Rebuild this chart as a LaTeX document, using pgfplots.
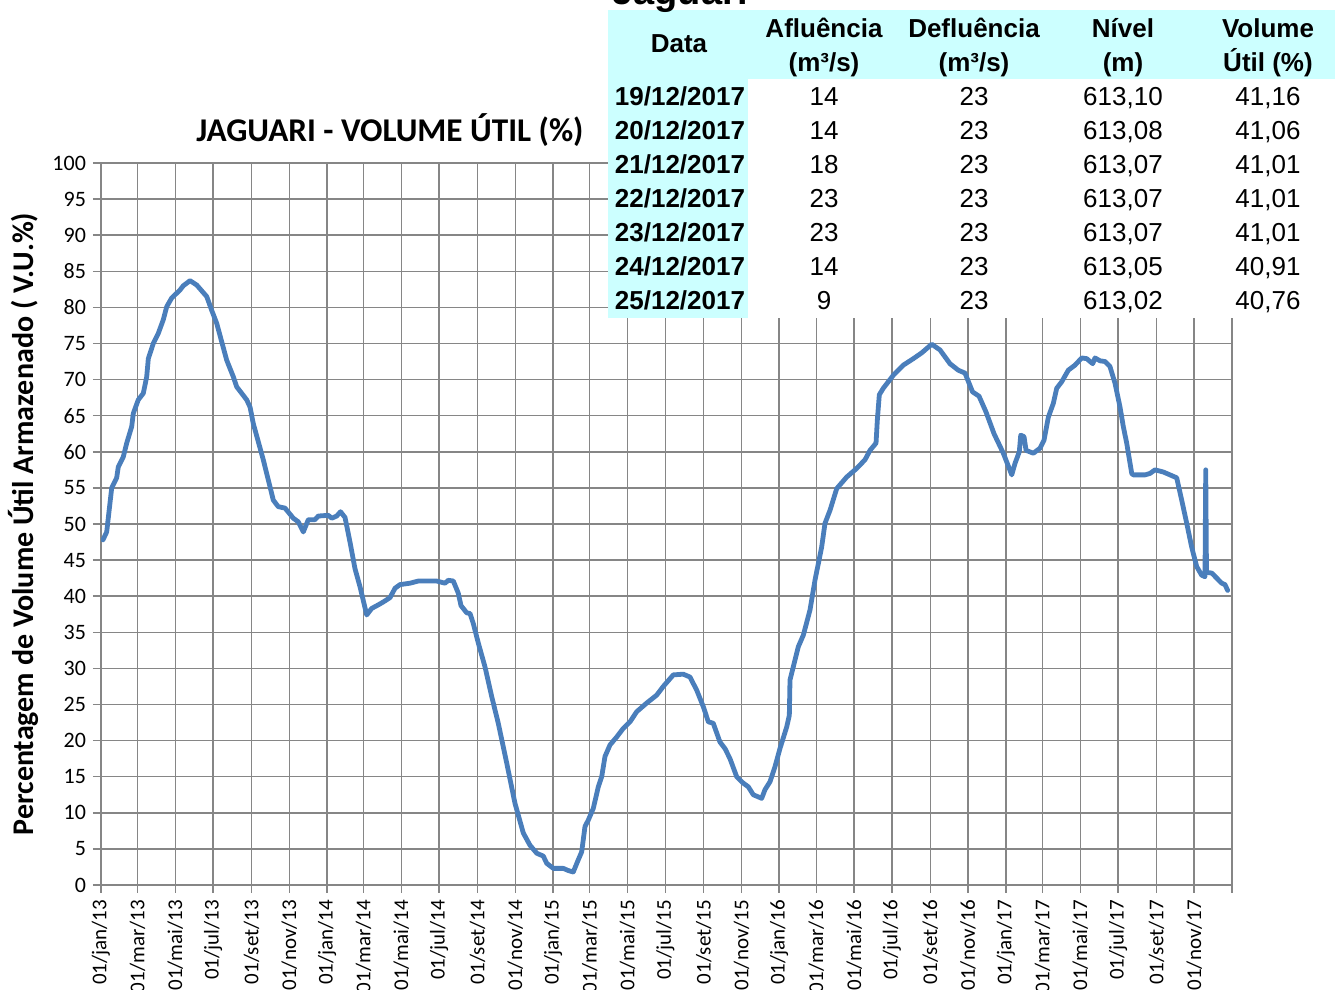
\documentclass[border=0pt]{standalone}
\usepackage{pgfplots}
\pgfplotsset{compat=1.18}
\usepackage{fontspec}
\setmainfont{Carlito}
\newfontfamily\arial{Liberation Sans}
\definecolor{xlblue}{RGB}{74,126,187}
\definecolor{gridgray}{RGB}{134,134,134}
\definecolor{tcyan}{RGB}{204,255,255}

\pgfplotstableread{
d v
3.2 47.8
9.2 48.9
14.5 52.9
17.3 55.0
25.3 56.4
27.9 57.9
36.0 59.3
41.5 61.2
49.6 63.5
52.1 65.3
60.2 67.2
68.3 68.1
73.8 70.4
76.4 72.9
84.4 75.0
92.5 76.4
100.6 78.3
106.1 80.1
114.1 81.3
127.5 82.4
132.9 83.0
143.7 83.7
154.5 83.1
170.7 81.5
178.7 79.6
186.8 77.8
202.9 72.7
213.6 70.4
219.1 69.0
235.2 67.2
240.6 66.2
245.9 63.9
262.0 58.9
270.1 56.1
278.2 53.3
286.2 52.4
297.1 52.2
310.5 50.8
318.5 50.3
326.6 48.9
334.7 50.6
345.5 50.6
350.8 51.1
367.0 51.2
372.5 50.8
380.5 51.1
386.7 51.7
394.0 50.9
402.0 47.5
410.1 43.8
418.2 41.3
429.0 37.4
437.0 38.3
447.7 38.8
455.8 39.2
466.6 39.8
474.7 41.1
482.7 41.6
498.9 41.8
512.3 42.1
542.0 42.1
555.4 41.8
560.7 42.2
568.8 42.1
576.9 40.4
581.2 38.7
590.4 37.7
595.8 37.6
601.1 36.2
609.2 33.5
620.0 30.2
630.8 26.1
641.4 22.4
655.0 16.9
668.4 11.3
681.8 7.2
692.6 5.5
703.5 4.4
714.1 4.0
719.6 3.0
730.3 2.3
746.4 2.3
754.5 2.0
762.5 1.8
770.6 3.5
776.1 4.6
781.4 8.1
786.8 9.0
794.8 10.6
802.9 13.6
808.4 15.0
813.7 17.8
821.8 19.4
832.6 20.5
843.3 21.7
854.1 22.6
864.9 24.0
881.0 25.2
897.2 26.3
907.8 27.5
924.0 29.1
940.1 29.2
950.9 28.8
961.7 27.0
972.4 24.7
980.5 22.6
988.5 22.4
999.3 19.8
1007.4 18.9
1015.5 17.5
1026.3 15.0
1037.0 14.1
1045.1 13.6
1053.1 12.5
1066.7 12.0
1072.0 13.2
1080.1 14.3
1088.2 16.4
1096.2 18.9
1107.1 21.9
1111.3 23.5
1112.4 28.4
1117.7 30.2
1125.8 33.0
1133.9 34.6
1144.7 38.1
1152.7 42.2
1163.5 46.8
1168.9 50.1
1177.0 51.9
1187.8 54.9
1203.9 56.5
1220.1 57.7
1233.5 58.9
1241.6 60.2
1251.3 61.2
1253.4 64.4
1256.6 67.9
1263.0 68.8
1279.2 70.6
1295.3 72.0
1311.5 72.9
1325.0 73.7
1341.2 74.9
1354.6 74.1
1370.7 72.2
1384.1 71.3
1394.9 70.9
1407.1 68.3
1417.6 67.7
1428.9 65.5
1441.8 62.5
1456.8 59.8
1470.4 56.8
1475.7 58.4
1482.6 60.0
1484.9 62.3
1490.2 62.1
1493.5 60.2
1505.3 59.8
1516.1 60.5
1522.5 61.6
1529.5 64.8
1537.5 66.7
1543.0 68.8
1551.1 69.7
1561.7 71.3
1572.5 72.0
1583.4 73.0
1591.4 72.9
1601.1 72.2
1604.8 73.0
1612.9 72.6
1621.0 72.5
1629.0 71.8
1637.1 69.5
1645.2 66.2
1650.5 63.5
1656.0 61.2
1664.1 57.0
1666.7 56.8
1685.6 56.8
1693.6 57.0
1701.7 57.5
1715.1 57.2
1725.9 56.8
1736.7 56.4
1744.8 53.3
1752.9 50.1
1760.9 46.8
1769.0 44.1
1777.1 42.9
1782.4 42.7
1783.6 57.5
1784.8 43.3
1793.3 43.2
1801.4 42.5
1809.4 41.8
1814.7 41.6
1819.0 40.8
}\volume

\begin{document}
\begin{tikzpicture}
\begin{axis}[
  at={(50.5pt,52.5pt)}, anchor=south west,
  scale only axis, width=565.5pt, height=361pt,
  xmin=0, xmax=1826, ymin=0, ymax=100,
  xtick={0,59,120,181,243,304,365,424,485,546,608,669,730,789,850,911,973,1034,1095,1155,1216,1277,1339,1400,1461,1520,1581,1642,1704,1765,1826},
  xticklabels={01/jan/13,01/mar/13,01/mai/13,01/jul/13,01/set/13,01/nov/13,
               01/jan/14,01/mar/14,01/mai/14,01/jul/14,01/set/14,01/nov/14,
               01/jan/15,01/mar/15,01/mai/15,01/jul/15,01/set/15,01/nov/15,
               01/jan/16,01/mar/16,01/mai/16,01/jul/16,01/set/16,01/nov/16,
               01/jan/17,01/mar/17,01/mai/17,01/jul/17,01/set/17,01/nov/17,{}},
  ytick={0,5,...,100},
  grid=major,
  grid style={gridgray, line width=0.75pt},
  axis line style={gridgray, line width=0.75pt},
  tick style={gridgray, line width=0.75pt},
  tick align=outside, major tick length=4pt,
  tick pos=left,
  /pgf/number format/assume math mode=true,
  yticklabel style={font=\fontsize{11}{13}\selectfont, text=black},
  xticklabel style={rotate=90, anchor=east, font=\fontsize{10.5}{12}\selectfont, text=black},
  ylabel={Percentagem de Volume Útil Armazenado ( V.U.\%)},
  ylabel style={at={(axis description cs:-0.0690,0.5)}, anchor=center, rotate=0,
                font=\bfseries\fontsize{15}{18}\selectfont},
  title={JAGUARI - VOLUME ÚTIL (\%)},
  title style={at={(axis description cs:0.2555,1.029)}, anchor=center,
               font=\bfseries\fontsize{16.6}{20}\selectfont},
]
\addplot[xlblue, line width=2.4pt, line join=round, line cap=round] table[x=d, y=v] {\volume};
\end{axis}

\begin{scope}[x=0.5pt, y=-0.5pt, shift={(0pt,495pt)}]
  \fill[white] (608,0) rectangle (1335,318);
  \fill[tcyan] (608,10) rectangle (1335,79);
  \fill[tcyan] (608,79) rectangle (748,318);
  \node[anchor=base west, inner sep=0pt, font=\arial\bfseries\fontsize{19}{22}\selectfont] at (612,5) {Jaguari};
  \begin{scope}[every node/.style={anchor=base, inner sep=0pt, font=\arial\bfseries\fontsize{13}{15}\selectfont}]
    \node at (679,53) {Data};
    \node at (824,38) {Afluência};
    \node at (824,72) {(m³/s)};
    \node at (974,38) {Defluência};
    \node at (974,72) {(m³/s)};
    \node at (1123,38) {Nível};
    \node at (1123,72) {(m)};
    \node at (1268,38) {Volume};
    \node at (1268,72) {Útil (\%)};
    \node at (680,106) {19/12/2017};
    \node at (680,140) {20/12/2017};
    \node at (680,174) {21/12/2017};
    \node at (680,208) {22/12/2017};
    \node at (680,242) {23/12/2017};
    \node at (680,276) {24/12/2017};
    \node at (680,310) {25/12/2017};
  \end{scope}
  \begin{scope}[every node/.style={anchor=base, inner sep=0pt, font=\arial\fontsize{13}{15}\selectfont}]
    \foreach \y/\a/\b/\n/\v in {106/14/23/{613,10}/{41,16}, 140/14/23/{613,08}/{41,06},
        174/18/23/{613,07}/{41,01}, 208/23/23/{613,07}/{41,01}, 242/23/23/{613,07}/{41,01},
        276/14/23/{613,05}/{40,91}, 310/9/23/{613,02}/{40,76}} {
      \node at (824,\y) {\a};
      \node at (974,\y) {\b};
      \node at (1123,\y) {\n};
      \node at (1268,\y) {\v};
    }
  \end{scope}
\end{scope}

\pgfresetboundingbox
\path[use as bounding box] (0pt,0pt) rectangle (667.5pt,495pt);
\end{tikzpicture}
\end{document}
